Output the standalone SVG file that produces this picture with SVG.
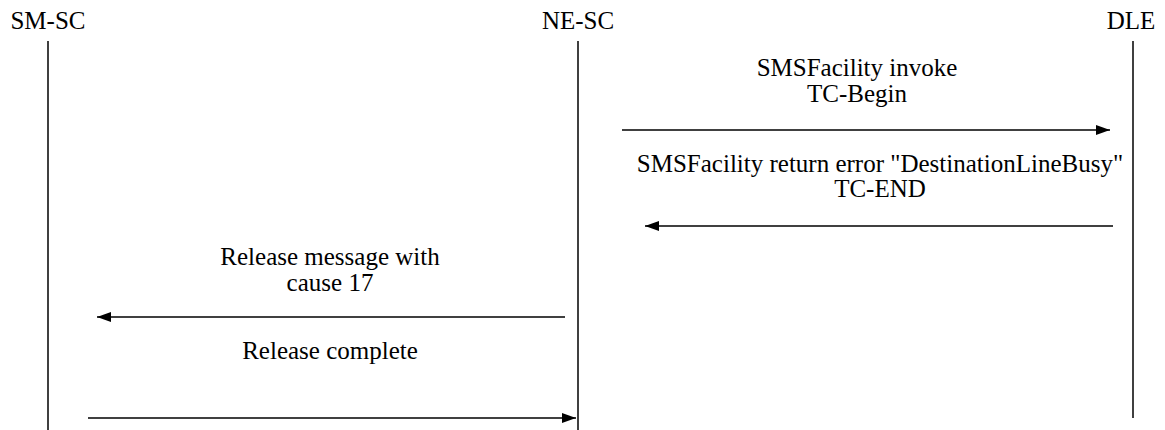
<svg xmlns="http://www.w3.org/2000/svg" width="1165" height="430" viewBox="0 0 1165 430">
<style>
.t{font-family:'Liberation Serif', 'DejaVu Serif', serif;font-size:25px;fill:#000;text-anchor:middle}
.life{stroke:#000;stroke-width:1.5}
.msg{stroke:#000;stroke-width:1.5;fill:none}
</style>
<defs>
<marker id="ah" viewBox="0 0 14 10" refX="14" refY="5" markerWidth="14" markerHeight="10" markerUnits="userSpaceOnUse" orient="auto">
<path d="M0,0 L14,5 L0,10 z" fill="#000"/>
</marker>
</defs>
<rect width="1165" height="430" fill="#fff"/>
<g id="smsc"><text class="t" x="48" y="29">SM-SC</text><line class="life" x1="48" y1="41" x2="48" y2="430"/></g>
<g id="nesc"><text class="t" x="578" y="29">NE-SC</text><line class="life" x1="578" y1="41" x2="578" y2="430"/></g>
<g id="dle"><text class="t" x="1131" y="29">DLE</text><line class="life" x1="1133" y1="41" x2="1133" y2="418"/></g>
<g id="connectors">
<line class="msg" x1="622" y1="130" x2="1110" y2="130" marker-end="url(#ah)"/>
<line class="msg" x1="1113" y1="226" x2="645" y2="226" marker-end="url(#ah)"/>
<line class="msg" x1="565" y1="317" x2="97" y2="317" marker-end="url(#ah)"/>
<line class="msg" x1="88" y1="418" x2="576" y2="418" marker-end="url(#ah)"/>
</g>
<g id="labels">
<text class="t" x="857" y="76">SMSFacility invoke</text>
<text class="t" x="857" y="102">TC-Begin</text>
<text class="t" x="880" y="172">SMSFacility return error "DestinationLineBusy"</text>
<text class="t" x="880" y="197">TC-END</text>
<text class="t" x="330" y="265">Release message with</text>
<text class="t" x="330" y="291">cause 17</text>
<text class="t" x="330" y="359">Release complete</text>
</g>
</svg>
